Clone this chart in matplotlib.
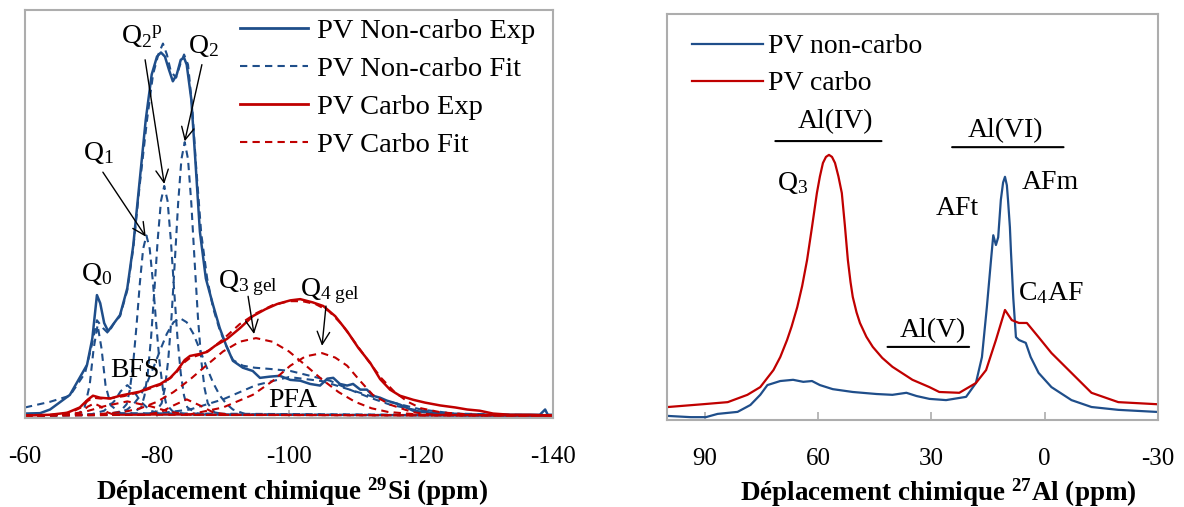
import matplotlib
matplotlib.use("Agg")
import matplotlib.pyplot as plt
from matplotlib.lines import Line2D

plt.rcParams['font.family'] = 'Liberation Serif'
plt.rcParams['mathtext.fontset'] = 'custom'
plt.rcParams['mathtext.rm'] = 'Liberation Serif'
plt.rcParams['mathtext.it'] = 'Liberation Serif:italic'
plt.rcParams['mathtext.bf'] = 'Liberation Serif:bold'
plt.rcParams['axes.unicode_minus'] = False

BLUE = '#1F4E8A'
RED = '#C00000'
GREY = '#ADADAD'

# ---- 29Si : PV non-carbo, experimental ----
si_nc_exp_ppm = [-60, -62.3, -63.8, -66.8, -69.4, -70.2, -70.9, -71.4, -72.0, -72.6, -73.5, -74.4,
                 -75.5, -76.4, -77.4, -78.3, -79.2, -80.0, -80.6, -81.2, -81.8, -82.4, -83.0, -83.6,
                 -84.1, -84.5, -85.2, -85.8, -86.5, -87.4, -88.5, -89.5, -90.5, -91.5, -93.0, -94.5,
                 -95.6, -97.1, -98.6, -100.2, -101.7, -103.2, -104.7, -105.8, -106.7, -107.7, -108.8,
                 -109.7, -110.8, -111.8, -112.7, -113.8, -114.8, -115.8, -116.8, -118.8, -121.4,
                 -125.9, -132.0, -138.0, -138.8, -139.2, -140]
si_nc_exp_int = [0.5, 0.6, 1.5, 5.1, 12.5, 19.0, 29.7, 27.7, 22.8, 20.8, 22.8, 24.8,
                 31.4, 41.9, 58.3, 73.0, 84.1, 88.5, 89.5, 88.5, 85.3, 82.4, 84.1, 87.7,
                 88.2, 86.5, 77.9, 63.2, 45.3, 33.8, 27.2, 21.6, 17.2, 13.5, 11.8, 11.0,
                 9.3, 9.6, 9.8, 8.8, 8.6, 7.8, 7.4, 9.1, 9.3, 7.8, 7.4,
                 7.8, 6.4, 6.4, 4.9, 4.4, 3.7, 3.2, 2.7, 1.2, 0.7,
                 0.2, 0.2, 0.2, 1.5, 0.2, 0.2]

# ---- 29Si : PV non-carbo, total fit ----
si_nc_fit_ppm = [-60, -63.8, -66.8, -69.1, -70.2, -70.9, -71.8, -72.6, -73.5, -74.4, -75.5, -76.4,
                 -77.4, -78.5, -79.4, -80.2, -80.9, -81.5, -82.1, -82.9, -83.5, -84.1, -84.7, -85.3,
                 -85.9, -86.7, -87.6, -88.5, -89.5, -90.5, -91.5, -93.0, -94.8, -97.1, -100.2,
                 -103.2, -106.2, -109.2, -112.3, -115.3, -118.8, -122.9, -128.9, -140]
si_nc_fit_int = [2.0, 3.4, 4.9, 10.5, 17.9, 23.5, 21.6, 20.3, 22.8, 24.5, 30.9, 41.2,
                 57.1, 73.0, 84.1, 89.0, 91.7, 89.0, 84.8, 83.3, 86.5, 89.0, 86.5, 76.7,
                 62.0, 44.9, 33.8, 26.5, 21.1, 17.2, 13.7, 12.3, 11.8, 11.5, 11.0,
                 9.8, 8.6, 6.4, 4.4, 2.7, 1.5, 0.7, 0.2, 0.0]

# ---- 29Si : PV non-carbo, fit components ----
si_nc_q0_ppm = [-60, -68.0, -69.0, -69.8, -70.4, -71.0, -71.6, -72.2, -73.0, -74.5, -140]
si_nc_q0_int = [0, 0.3, 1.8, 7.5, 16.5, 22.3, 16.5, 7.5, 2.5, 0.6, 0]
si_nc_bfs_ppm = [-60, -70, -72, -73.5, -74.5, -75.5, -76.5, -77.5, -79, -81, -140]
si_nc_bfs_int = [0, 0.3, 1.2, 3.5, 6.0, 7.5, 6.0, 3.5, 1.2, 0.3, 0]
si_nc_q1_ppm = [-60, -72.4, -74.4, -75.4, -75.9, -76.4, -76.9, -77.4, -77.9, -78.4, -78.9, -79.4,
                -79.9, -80.4, -80.9, -81.4, -82.4, -84.4, -140]
si_nc_q1_int = [0, 0.3, 1.0, 2.8, 6.5, 13.0, 22.2, 32.6, 41.1, 44.4, 41.1, 32.6,
                22.2, 13.0, 6.5, 2.8, 1.0, 0.3, 0]
si_nc_q2p_ppm = [-60, -74.1, -76.1, -77.6, -78.1, -78.6, -79.1, -79.6, -80.1, -80.6, -81.1, -81.6,
                 -82.1, -82.6, -83.1, -83.6, -84.1, -84.6, -86.1, -88.1, -140]
si_nc_q2p_int = [0, 0.2, 0.5, 2.0, 4.9, 10.4, 19.2, 30.8, 43.2, 52.9, 56.6, 52.9,
                 43.2, 30.8, 19.2, 10.4, 4.9, 2.0, 0.5, 0.2, 0]
si_nc_q2_ppm = [-60, -77.7, -79.7, -80.7, -81.2, -81.7, -82.2, -82.7, -83.2, -83.7, -84.2, -84.7,
                -85.2, -85.7, -86.2, -86.7, -87.2, -87.7, -88.7, -90.7, -140]
si_nc_q2_int = [0, 0.2, 0.8, 3.0, 6.8, 13.7, 24.3, 38.0, 52.3, 63.2, 67.4, 63.2,
                52.3, 38.0, 24.3, 13.7, 6.8, 3.0, 0.8, 0.2, 0]
si_nc_q2b_ppm = [-60, -73.5, -75.5, -76.5, -77.5, -78.5, -79.5, -80.5, -81.5, -82.5, -83.5, -84.5,
                 -85.5, -86.5, -87.5, -88.5, -89.5, -90.5, -91.5, -93.5, -140]
si_nc_q2b_int = [0, 0.3, 1.5, 2.9, 5.0, 8.1, 12.0, 16.2, 20.2, 23.0, 24.0, 23.0,
                 20.2, 16.2, 12.0, 8.1, 5.0, 2.9, 1.5, 0.3, 0]
si_nc_pfa_ppm = [-60, -80, -85, -90, -95, -100, -105, -110, -115, -120, -125, -140]
si_nc_pfa_int = [0, 0.5, 1.5, 4.0, 7.5, 9.5, 8.5, 6.0, 3.5, 1.5, 0.5, 0]

# ---- 29Si : PV carbo, experimental ----
si_c_exp_ppm = [-60, -63.8, -66.4, -68.3, -69.5, -70.3, -71.4, -72.9, -74.4, -75.9, -77.4, -78.9,
                -80.5, -82.0, -83.0, -84.2, -85.0, -86.5, -87.6, -88.8, -90.6, -92.6, -94.5, -96.4,
                -98.2, -100.2, -101.7, -103.6, -105.2, -107.0, -108.8, -110.5, -112.3, -113.8,
                -115.3, -116.8, -118.8, -120.6, -122.9, -125.2, -127.0, -128.9, -130.9, -133.5,
                -136.5, -140]
si_c_exp_int = [0, 0.2, 0.7, 2.0, 3.9, 4.9, 4.4, 4.2, 4.9, 5.4, 5.9, 6.9,
                7.8, 9.3, 11.0, 13.7, 14.7, 15.2, 15.7, 17.2, 18.9, 21.6, 24.5, 26.2,
                27.5, 28.4, 28.7, 27.9, 27.0, 24.5, 20.8, 16.7, 13.0, 9.0,
                6.4, 4.9, 3.9, 3.2, 2.5, 2.0, 1.5, 1.2, 0.5, 0.2,
                0.2, 0]

# ---- 29Si : PV carbo, total fit ----
si_c_fit_ppm = [-60, -64, -67, -68.5, -69.5, -70.3, -71.4, -73, -75, -77.4, -79, -80.5, -82, -83,
                -84.2, -85, -86.5, -88, -90, -92.5, -95, -97.5, -100, -102, -104, -106, -108,
                -110, -112, -114, -116, -118, -120, -123, -127, -131, -135, -140]
si_c_fit_int = [0, 0.2, 0.8, 2.0, 3.6, 4.4, 4.2, 4.3, 4.8, 5.8, 6.7, 7.6, 9.2, 10.8,
                13.2, 14.2, 15.0, 16.2, 18.8, 22.5, 25.2, 27.2, 28.2, 28.2, 27.5, 25.8, 22.5,
                18.0, 13.5, 9.2, 5.8, 3.4, 1.8, 0.8, 0.3, 0.1, 0, 0]

# ---- 29Si : PV carbo, fit components ----
si_c_q3_ppm = [-60, -70, -75, -77.5, -80, -82.5, -85, -87.5, -90, -92.5, -95, -97.5, -100,
               -102.5, -105, -107.5, -110, -112.5, -115, -120, -140]
si_c_q3_int = [0, 0.2, 0.9, 1.8, 3.4, 5.8, 8.9, 12.4, 15.8, 18.2, 19.1, 18.2, 15.8,
               12.4, 8.9, 5.8, 3.4, 1.8, 0.9, 0.2, 0]
si_c_q4_ppm = [-60, -85, -90, -94.5, -97.5, -100.2, -102.5, -105, -107, -108.8, -110.8, -112.7,
               -115.3, -118.8, -122, -140]
si_c_q4_int = [0, 0.3, 2.0, 5.1, 8.5, 12.3, 14.6, 15.4, 14.3, 12.3, 8.5, 5.1,
               2.7, 0.8, 0.2, 0]
si_c_a_ppm = [-60, -67.5, -68.5, -69.5, -70.5, -71.5, -72.5, -73.5, -140]
si_c_a_int = [0, 0.2, 0.8, 2.2, 3.0, 2.2, 0.8, 0.2, 0]
si_c_b_ppm = [-60, -66, -69, -72, -75.5, -79, -82, -85, -140]
si_c_b_int = [0, 0.2, 0.9, 2.3, 3.5, 2.3, 0.9, 0.2, 0]
si_c_c_ppm = [-60, -78, -80.5, -82.5, -84.5, -86.5, -88.5, -91, -140]
si_c_c_int = [0, 0.2, 0.8, 2.5, 4.0, 2.5, 0.8, 0.2, 0]

# ---- 27Al spectra ----
al_nc_ppm = [99.7, 93.7, 89.7, 86.6, 81.3, 77.9, 75.3, 73.4, 70.0, 66.6, 63.9, 61.6, 59.5, 56.1,
             50.8, 44.5, 40.3, 36.6, 33.9, 30.5, 26.1, 20.8, 18.2, 16.6, 15.3, 14.2, 13.6, 12.9,
             12.3, 11.6, 11.0, 10.5, 10.0, 9.7, 9.2, 8.9, 8.3, 7.6, 6.8, 5.0, 3.7, 1.6, -1.8,
             -7.1, -12.4, -19.5, -29.5]
al_nc_int = [1.0, 0.7, 0.7, 1.5, 2.0, 3.7, 6.2, 8.6, 9.6, 9.9, 9.4, 9.6, 8.6, 7.6,
             6.9, 6.4, 6.2, 6.7, 5.9, 5.2, 4.9, 5.7, 9.1, 15.5, 27.8, 39.4, 45.5, 43.1,
             45.0, 54.2, 58.5, 59.9, 57.8, 54.2, 47.5, 41.1, 30.0, 20.4, 19.7, 19.0, 15.5, 11.6, 8.1,
             4.9, 3.2, 2.5, 2.0]
al_c_ppm = [99.7, 90.3, 83.9, 78.7, 75.3, 71.8, 70.0, 68.2, 67.0, 65.5, 64.2, 62.9, 61.6, 60.3,
            59.5, 58.7, 57.9, 57.1, 56.3, 55.5, 54.6, 53.7, 52.9, 52.1, 51.4, 50.8, 49.8, 48.9,
            47.2, 45.5, 43.0, 40.3, 35.0, 30.5, 27.9, 22.6, 18.2, 15.5, 12.9, 10.5, 8.7,
            6.8, 4.7, 1.6, -1.8, -7.1, -12.4, -19.5, -29.5]
al_c_int = [3.2, 3.9, 4.4, 6.2, 8.1, 12.3, 15.5, 19.7, 23.0, 27.8, 33.0, 39.4, 47.5, 55.9,
            60.0, 63.3, 64.8, 65.3, 64.8, 63.3, 60.0, 55.9, 48.0, 39.4, 34.0, 30.3, 26.5, 23.9,
            20.5, 18.0, 15.3, 13.1, 9.9, 8.1, 6.9, 6.7, 9.1, 12.3, 19.7, 27.1, 24.6,
            23.9, 23.9, 20.4, 16.5, 11.6, 6.7, 4.4, 3.9]

fig = plt.figure(figsize=(11.84, 5.07), dpi=100)
ax1 = fig.add_axes([0.0211, 0.1755, 0.446, 0.805])
ax2 = fig.add_axes([0.5633, 0.1716, 0.4147, 0.8008])

dash = (0, (3.5, 2.5))

# ----- left panel -----
for p, v in [(si_nc_q0_ppm, si_nc_q0_int), (si_nc_bfs_ppm, si_nc_bfs_int),
             (si_nc_q1_ppm, si_nc_q1_int), (si_nc_q2p_ppm, si_nc_q2p_int),
             (si_nc_q2_ppm, si_nc_q2_int), (si_nc_q2b_ppm, si_nc_q2b_int),
             (si_nc_pfa_ppm, si_nc_pfa_int)]:
    ax1.plot(p, v, color=BLUE, lw=1.5, ls=dash)
ax1.plot(si_nc_exp_ppm, si_nc_exp_int, color=BLUE, lw=1.8)
ax1.plot(si_nc_fit_ppm, si_nc_fit_int, color=BLUE, lw=1.5, ls=dash)
for p, v in [(si_c_q3_ppm, si_c_q3_int), (si_c_q4_ppm, si_c_q4_int),
             (si_c_a_ppm, si_c_a_int), (si_c_b_ppm, si_c_b_int), (si_c_c_ppm, si_c_c_int)]:
    ax1.plot(p, v, color=RED, lw=1.5, ls=dash)
ax1.plot(si_c_exp_ppm, si_c_exp_int, color=RED, lw=1.8)
ax1.plot(si_c_fit_ppm, si_c_fit_int, color=RED, lw=1.5, ls=dash)

ax1.set_xlim(-60, -140)
ax1.set_ylim(-0.6, 100)
ax1.set_xticks([-60, -80, -100, -120, -140])
ax1.set_yticks([])

handles = [Line2D([], [], color=BLUE, lw=2),
           Line2D([], [], color=BLUE, lw=1.5, ls=dash),
           Line2D([], [], color=RED, lw=2),
           Line2D([], [], color=RED, lw=1.5, ls=dash)]
labels = ['PV Non-carbo Exp', 'PV Non-carbo Fit', 'PV Carbo Exp', 'PV Carbo Fit']
fig.legend(handles, labels, loc='upper left', bbox_to_anchor=(0.2027, 0.9645),
           frameon=False, fontsize=20.5, borderpad=0, borderaxespad=0,
           handlelength=2.4, handletextpad=0.3, labelspacing=0.42)

ann = dict(fontsize=20, ha='center', va='center')
ax1.text(-77.7, 93.4, r'Q$_{\mathrm{2}}$$^{\mathrm{p}}$', **ann)
ax1.text(-87.0, 91.2, r'Q$_{\mathrm{2}}$', **ann)
ax1.text(-71.1, 64.7, r'Q$_{\mathrm{1}}$', **ann)
ax1.text(-70.9, 34.8, r'Q$_{\mathrm{0}}$', **ann)
ax1.text(-76.7, 11.0, 'BFS', **ann)
ax1.text(-93.8, 32.6, r'Q$_{\mathrm{3\ gel}}$', **ann)
ax1.text(-106.2, 30.6, r'Q$_{\mathrm{4\ gel}}$', **ann)
ax1.text(-100.5, 3.7, 'PFA', **ann)

arrow = dict(arrowstyle='->,head_length=0.6,head_width=0.3', color='black', lw=1,
             mutation_scale=15, shrinkA=0, shrinkB=0)
ax1.annotate('', xy=(-81.1, 57.1), xytext=(-78.2, 87.7), arrowprops=arrow)
ax1.annotate('', xy=(-84.2, 67.6), xytext=(-86.8, 86.5), arrowprops=arrow)
ax1.annotate('', xy=(-78.3, 44.1), xytext=(-71.8, 60.0), arrowprops=arrow)
ax1.annotate('', xy=(-94.7, 20.1), xytext=(-93.8, 29.4), arrowprops=arrow)
ax1.annotate('', xy=(-105.0, 17.2), xytext=(-105.6, 27.0), arrowprops=arrow)

ax1.set_xlabel('Déplacement chimique $^{\\mathbf{29}}$Si (ppm)', fontsize=19.5,
               fontweight='bold')
ax1.xaxis.set_label_coords(0.506, -0.142)

# ----- right panel -----
ax2.plot(al_nc_ppm, al_nc_int, color=BLUE, lw=1.6, label='PV non-carbo')
ax2.plot(al_c_ppm, al_c_int, color=RED, lw=1.6, label='PV carbo')
ax2.set_xlim(100, -30)
ax2.set_ylim(0, 100)
ax2.set_xticks([90, 60, 30, 0, -30])
ax2.set_yticks([])
fig.legend(*ax2.get_legend_handles_labels(), loc='upper left',
           bbox_to_anchor=(0.5845, 0.9329), frameon=False, fontsize=20, borderpad=0,
           borderaxespad=0, handlelength=2.55, handletextpad=0.2, labelspacing=0.41)

ax2.text(55.5, 73.4, 'Al(IV)', **ann)
ax2.text(10.5, 71.2, 'Al(VI)', **ann)
ax2.text(29.5, 21.9, 'Al(V)', **ann)
ax2.text(66.8, 58.4, r'Q$_{\mathrm{3}}$', **ann)
ax2.text(23.2, 52.2, 'AFt', **ann)
ax2.text(-1.6, 58.4, 'AFm', **ann)
ax2.text(-1.6, 31.3, r'C$_{\mathrm{4}}$AF', **ann)
bar = dict(arrowstyle='-', color='black', lw=1.5, shrinkA=0, shrinkB=0)
ax2.annotate('', xy=(43.2, 68.7), xytext=(71.3, 68.7), arrowprops=bar)
ax2.annotate('', xy=(-5.0, 67.2), xytext=(24.5, 67.2), arrowprops=bar)
ax2.annotate('', xy=(20.0, 18.0), xytext=(41.6, 18.0), arrowprops=bar)

ax2.set_xlabel('Déplacement chimique $^{\\mathbf{27}}$Al (ppm)', fontsize=19.5,
               fontweight='bold')
ax2.xaxis.set_label_coords(0.552, -0.138)

for ax in (ax1, ax2):
    for s in ax.spines.values():
        s.set_color(GREY)
        s.set_linewidth(1.5)
    ax.tick_params(axis='x', direction='in', length=6, width=1.2, color=GREY,
                   labelsize=18, pad=20)

fig.savefig('out.png', dpi=100)
